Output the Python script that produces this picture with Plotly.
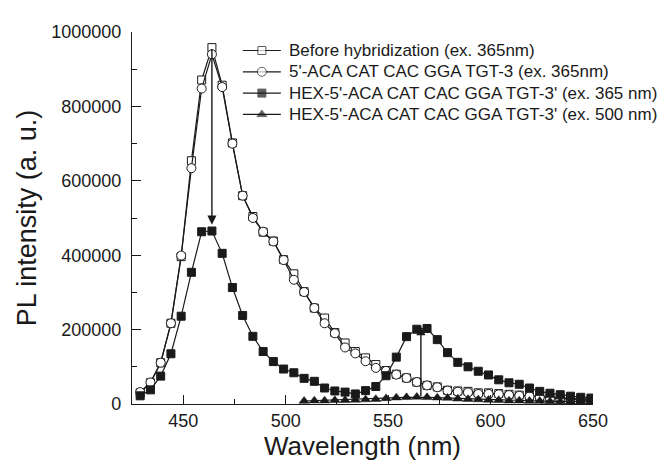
import plotly.graph_objects as go

wavelength = [429 + 5 * i for i in range(45)]

before_hyb = [30000, 57000, 111000, 217000, 396000, 654000, 871000, 958000, 857000, 702000,
              560000, 504000, 462000, 438000, 388000, 350000, 302000, 258000, 231000, 192000,
              164000, 141000, 124000, 106000, 90000, 80000, 70000, 59000, 50000, 46000,
              37000, 35000, 34000, 30000, 30000, 28000, 26000, 24000, 21000, 19000,
              17000, 15000, 13000, 12000, 11000]

target = [32000, 58000, 111000, 217000, 399000, 634000, 848000, 940000, 852000, 700000,
          560000, 500000, 463000, 437000, 387000, 334000, 301000, 258000, 217000, 190000,
          152000, 136000, 115000, 97000, 89000, 79000, 70000, 59000, 50000, 45000,
          36000, 33000, 31000, 27000, 27000, 26000, 24000, 22000, 20000, 18000,
          16000, 14000, 13000, 11000, 10000]

hex_365 = [22000, 38000, 75000, 135000, 236000, 354000, 463000, 465000, 405000, 313000,
           238000, 182000, 141000, 114000, 94000, 84000, 69000, 61000, 43000, 35000,
           32000, 27000, 36000, 47000, 76000, 126000, 181000, 201000, 203000, 173000,
           138000, 112000, 100000, 88000, 78000, 65000, 57000, 53000, 43000, 34000,
           29000, 25000, 21000, 18000, 16000]

wavelength_500 = [509 + 5 * i for i in range(29)]
hex_500 = [8000, 9000, 9000, 10000, 10000, 11000, 12000, 13000, 15000, 17000,
           18000, 19000, 18000, 17000, 16000, 14000, 13000, 12000, 11000, 10000,
           9000, 9000, 8000, 8000, 7000, 7000, 6000, 6000, 6000]

names = ["Before hybridization (ex. 365nm)",
         "5'-ACA CAT CAC GGA TGT-3 (ex. 365nm)",
         "HEX-5'-ACA CAT CAC GGA TGT-3' (ex. 365 nm)",
         "HEX-5'-ACA CAT CAC GGA TGT-3' (ex. 500 nm)"]

# arrows: (x, y_start, y_end)
arrow_down = (464, 958000, 482000)
arrow_up = (566, 17000, 209000)

ink = "#1a1a1a"
font = "Liberation Sans, Arial, sans-serif"

W, H = 667, 463
L, R, T, B = 124, 81.5, 24, 67

styles = [
    dict(symbol="square", size=8, color="white", line=dict(color=ink, width=1)),
    dict(symbol="circle", size=9, color="white", line=dict(color=ink, width=1)),
    dict(symbol="square", size=8, color=ink, line=dict(color=ink, width=1)),
    dict(symbol="triangle-up", size=9, color=ink, line=dict(color=ink, width=0.5)),
]
xs = [wavelength, wavelength, wavelength, wavelength_500]
ys = [before_hyb, target, hex_365, hex_500]

fig = go.Figure()
for i in range(4):
    fig.add_trace(go.Scatter(x=xs[i], y=ys[i], name=names[i], mode="lines+markers",
                             line=dict(color=ink, width=1.2), marker=styles[i],
                             showlegend=False))

# legend drawn on a hidden pixel-space overlay axis
leg_x0, leg_x1, leg_text_x = 235, 273, 279
leg_y0, leg_dy = 42.5, 21.3
for i in range(4):
    yy = leg_y0 + i * leg_dy
    st = dict(styles[i])
    st["size"] = [0, st["size"], 0]
    fig.add_trace(go.Scatter(x=[leg_x0, (leg_x0 + leg_x1) / 2, leg_x1], y=[yy, yy, yy],
                             xaxis="x2", yaxis="y2", mode="lines+markers",
                             line=dict(color=ink, width=1.2), marker=st,
                             showlegend=False, hoverinfo="skip", cliponaxis=False))
    fig.add_annotation(x=leg_text_x, y=yy, xref="x2", yref="y2", text=names[i],
                       showarrow=False, xanchor="left", yanchor="middle",
                       font=dict(size=17, family=font, color=ink))

# arrows
for (ax_x, y0, y1) in [arrow_down, arrow_up]:
    fig.add_annotation(x=ax_x, y=y1, ax=ax_x, ay=y0, xref="x", yref="y", axref="x", ayref="y",
                       text="", showarrow=True, arrowhead=2, arrowsize=1.3, arrowwidth=1.4,
                       arrowcolor=ink, standoff=0, startstandoff=0)

fig.update_layout(
    width=W, height=H,
    margin=dict(l=L, r=R, t=T, b=B, autoexpand=False),
    paper_bgcolor="white", plot_bgcolor="rgba(0,0,0,0)",
    font=dict(family=font, color=ink, size=18),
    showlegend=False,
    xaxis=dict(range=[425, 650], showline=True, linecolor=ink, linewidth=1.3,
               ticks="inside", ticklen=9, tickwidth=1.2, tickcolor=ink,
               tickvals=[450, 500, 550, 600, 650], ticklabelstandoff=0,
               minor=dict(tickvals=[475, 525, 575, 625], ticks="inside", ticklen=5, tickwidth=1.2, tickcolor=ink),
               showgrid=False, zeroline=False, tickfont=dict(size=18),
               title=dict(text="Wavelength (nm)", font=dict(size=26), standoff=0)),
    yaxis=dict(range=[0, 1000000], showline=True, linecolor=ink, linewidth=1.3,
               ticks="inside", ticklen=9, tickwidth=1.2, tickcolor=ink,
               tickvals=[0, 200000, 400000, 600000, 800000, 1000000], tickformat="d",
               ticklabelstandoff=6,
               minor=dict(tickvals=[100000, 300000, 500000, 700000, 900000], ticks="inside",
                          ticklen=5, tickwidth=1.2, tickcolor=ink),
               showgrid=False, zeroline=False, tickfont=dict(size=18),
               title=dict(text="PL intensity (a. u.)", font=dict(size=27), standoff=6)),
    xaxis2=dict(range=[L, W - R], visible=False, overlaying="x", anchor="y", fixedrange=True),
    yaxis2=dict(range=[H - B, T], visible=False, overlaying="y", anchor="x", fixedrange=True),
)

fig.write_html("out.html")
